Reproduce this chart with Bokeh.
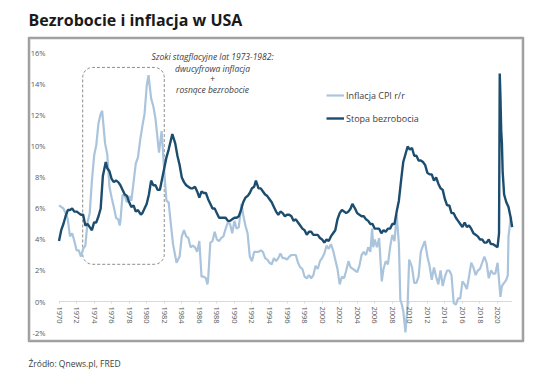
import math
import numpy as np
from bokeh.plotting import figure
from bokeh.models import (FixedTicker, PrintfTickFormatter, Title, Legend, ColumnDataSource)
from bokeh.core.properties import value
from bokeh.embed import file_html
from bokeh.resources import INLINE

# ---------------- data ----------------
unemp_t = [1970.0, 1970.25, 1970.5, 1970.75, 1971.0, 1971.25, 1971.5, 1971.75,
           1972.0, 1972.25, 1972.5, 1972.75, 1973.0, 1973.25, 1973.5, 1973.75,
           1974.0, 1974.25, 1974.5, 1974.75, 1975.0, 1975.33, 1975.5, 1975.75,
           1976.0, 1976.25, 1976.5, 1976.75, 1977.0, 1977.25, 1977.5, 1977.75,
           1978.0, 1978.25, 1978.5, 1978.75, 1979.0, 1979.33, 1979.5, 1979.75,
           1980.0, 1980.25, 1980.5, 1980.75, 1981.0, 1981.25, 1981.5, 1981.75,
           1982.0, 1982.25, 1982.5, 1982.75, 1982.92, 1983.25, 1983.5, 1983.75,
           1984.0, 1984.25, 1984.5, 1984.75, 1985.0, 1985.25, 1985.5, 1985.75,
           1986.0, 1986.25, 1986.5, 1986.75, 1987.0, 1987.25, 1987.5, 1987.75,
           1988.0, 1988.25, 1988.5, 1988.75, 1989.0, 1989.25, 1989.5, 1989.75,
           1990.0, 1990.25, 1990.5, 1990.75, 1991.0, 1991.25, 1991.5, 1991.75,
           1992.0, 1992.25, 1992.45, 1992.75, 1993.0, 1993.25, 1993.5, 1993.75,
           1994.0, 1994.25, 1994.5, 1994.75, 1995.0, 1995.25, 1995.5, 1995.75,
           1996.0, 1996.25, 1996.5, 1996.75, 1997.0, 1997.25, 1997.5, 1997.75,
           1998.0, 1998.25, 1998.5, 1998.75, 1999.0, 1999.25, 1999.5, 1999.75,
           2000.0, 2000.25, 2000.5, 2000.75, 2001.0, 2001.25, 2001.5, 2001.75,
           2002.0, 2002.25, 2002.5, 2002.75, 2003.0, 2003.25, 2003.45, 2003.75,
           2004.0, 2004.25, 2004.5, 2004.75, 2005.0, 2005.25, 2005.5, 2005.75,
           2006.0, 2006.25, 2006.5, 2006.75, 2007.0, 2007.25, 2007.5, 2007.75,
           2008.0, 2008.25, 2008.5, 2008.75, 2009.0, 2009.25, 2009.5, 2009.75,
           2010.0, 2010.25, 2010.5, 2010.75, 2011.0, 2011.25, 2011.5, 2011.75,
           2012.0, 2012.25, 2012.5, 2012.75, 2013.0, 2013.25, 2013.5, 2013.75,
           2014.0, 2014.25, 2014.5, 2014.75, 2015.0, 2015.25, 2015.5, 2015.75,
           2016.0, 2016.25, 2016.5, 2016.75, 2017.0, 2017.25, 2017.5, 2017.75,
           2018.0, 2018.25, 2018.5, 2018.75, 2019.0, 2019.25, 2019.5, 2019.75,
           2020.0, 2020.17, 2020.25, 2020.33, 2020.42, 2020.5, 2020.58, 2020.75,
           2021.0, 2021.25, 2021.5, 2021.67]
unemp_v = [3.9, 4.6, 5.0, 5.5, 5.9, 5.9, 6.0, 5.8,
           5.8, 5.7, 5.6, 5.6, 4.9, 5.0, 4.8, 4.6,
           5.1, 5.1, 5.5, 6.0, 8.1, 9.0, 8.6, 8.4,
           7.9, 7.7, 7.8, 7.7, 7.5, 7.2, 6.9, 6.8,
           6.4, 6.1, 6.2, 5.8, 5.9, 5.6, 5.7, 6.0,
           6.3, 6.9, 7.8, 7.5, 7.5, 7.2, 7.2, 7.9,
           8.6, 9.3, 9.8, 10.4, 10.8, 10.2, 9.4, 8.8,
           8.0, 7.7, 7.5, 7.4, 7.3, 7.3, 7.4, 7.1,
           6.7, 7.1, 7.0, 7.0, 6.6, 6.3, 6.0, 6.0,
           5.7, 5.4, 5.4, 5.4, 5.4, 5.2, 5.2, 5.3,
           5.4, 5.4, 5.5, 5.9, 6.4, 6.7, 6.8, 7.0,
           7.3, 7.4, 7.8, 7.3, 7.3, 7.1, 6.9, 6.8,
           6.6, 6.4, 6.1, 5.8, 5.6, 5.8, 5.7, 5.5,
           5.6, 5.6, 5.5, 5.2, 5.3, 5.1, 4.9, 4.7,
           4.6, 4.3, 4.5, 4.5, 4.3, 4.3, 4.3, 4.1,
           4.0, 3.8, 4.0, 3.9, 4.2, 4.4, 4.6, 5.3,
           5.7, 5.9, 5.8, 5.7, 5.8, 6.0, 6.3, 6.0,
           5.7, 5.6, 5.5, 5.5, 5.3, 5.2, 5.0, 5.0,
           4.7, 4.7, 4.7, 4.4, 4.6, 4.5, 4.7, 4.7,
           5.0, 5.0, 5.8, 6.5, 7.8, 9.0, 9.5, 10.0,
           9.8, 9.9, 9.4, 9.4, 9.1, 9.1, 9.0, 8.8,
           8.3, 8.2, 8.2, 7.8, 8.0, 7.6, 7.3, 7.2,
           6.6, 6.2, 6.2, 5.7, 5.7, 5.4, 5.2, 5.0,
           4.8, 5.1, 4.8, 4.9, 4.7, 4.4, 4.3, 4.2,
           4.0, 4.0, 3.8, 3.8, 4.0, 3.7, 3.7, 3.6,
           3.5, 4.4, 14.7, 13.2, 11.0, 10.2, 8.4, 6.9,
           6.4, 6.1, 5.4, 4.8]

cpi_t = [1970.0, 1970.25, 1970.5, 1970.75, 1971.0, 1971.25, 1971.5, 1971.75,
         1972.0, 1972.25, 1972.5, 1972.75, 1973.0, 1973.25, 1973.5, 1973.75,
         1974.0, 1974.25, 1974.5, 1974.75, 1974.92, 1975.0, 1975.25, 1975.5, 1975.75,
         1976.0, 1976.25, 1976.5, 1976.75, 1976.92, 1977.0, 1977.25, 1977.5, 1977.75,
         1978.0, 1978.25, 1978.5, 1978.75, 1979.0, 1979.25, 1979.5, 1979.75,
         1980.0, 1980.2, 1980.5, 1980.75, 1981.0, 1981.4, 1981.7, 1982.0,
         1982.25, 1982.5, 1982.75, 1983.0, 1983.4, 1983.75, 1984.0, 1984.25,
         1984.5, 1984.75, 1985.0, 1985.25, 1985.5, 1985.75, 1986.0, 1986.25,
         1986.5, 1986.75, 1986.92, 1987.0, 1987.25, 1987.5, 1987.75, 1988.0,
         1988.25, 1988.5, 1988.75, 1989.0, 1989.25, 1989.5, 1989.75, 1990.0,
         1990.25, 1990.5, 1990.8, 1991.0, 1991.25, 1991.5, 1991.75, 1992.0,
         1992.25, 1992.5, 1992.75, 1993.0, 1993.25, 1993.5, 1993.75, 1994.0,
         1994.25, 1994.5, 1994.75, 1995.0, 1995.25, 1995.5, 1995.75, 1996.0,
         1996.25, 1996.5, 1996.75, 1997.0, 1997.25, 1997.5, 1997.75, 1998.0,
         1998.25, 1998.5, 1998.75, 1999.0, 1999.25, 1999.5, 1999.75, 2000.0,
         2000.25, 2000.5, 2000.75, 2001.0, 2001.25, 2001.5, 2001.75, 2002.0,
         2002.25, 2002.5, 2002.75, 2003.0, 2003.25, 2003.5, 2003.75, 2004.0,
         2004.25, 2004.5, 2004.75, 2005.0, 2005.25, 2005.5, 2005.7, 2005.83,
         2006.0, 2006.25, 2006.5, 2006.8, 2007.0, 2007.25, 2007.5, 2007.75,
         2008.0, 2008.25, 2008.5, 2008.75, 2008.92, 2009.0, 2009.25, 2009.5,
         2009.75, 2009.92, 2010.0, 2010.25, 2010.5, 2010.75, 2011.0, 2011.25,
         2011.5, 2011.7, 2011.83, 2012.0, 2012.25, 2012.5, 2012.75, 2013.0,
         2013.25, 2013.5, 2013.75, 2014.0, 2014.25, 2014.5, 2014.75, 2015.0,
         2015.25, 2015.5, 2015.75, 2016.0, 2016.25, 2016.5, 2016.75, 2017.0,
         2017.25, 2017.5, 2017.75, 2018.0, 2018.25, 2018.5, 2018.75, 2019.0,
         2019.25, 2019.5, 2019.75, 2020.0, 2020.33, 2020.5, 2020.75, 2021.0,
         2021.17, 2021.25, 2021.42, 2021.5, 2021.67]
cpi_v = [6.2, 6.1, 6.0, 5.7, 5.3, 4.2, 4.4, 3.9,
         3.3, 3.3, 2.9, 3.4, 3.6, 5.1, 5.7, 7.8,
         9.4, 10.1, 11.5, 12.1, 12.3, 11.8, 10.2, 9.5, 7.4,
         6.7, 6.1, 5.4, 5.3, 4.9, 5.2, 6.9, 6.8, 6.4,
         6.8, 6.5, 7.7, 8.9, 9.3, 10.4, 11.3, 12.1,
         13.9, 14.6, 13.1, 12.6, 11.8, 9.6, 11.0, 8.4,
         6.5, 6.4, 5.0, 3.7, 2.5, 2.9, 4.2, 4.6,
         4.2, 4.1, 3.5, 3.6, 3.5, 3.2, 3.9, 1.6,
         1.6, 1.5, 1.1, 1.4, 3.8, 3.9, 4.5, 4.0,
         3.9, 4.1, 4.2, 4.7, 5.1, 5.0, 4.4, 5.2,
         4.7, 4.8, 6.3, 5.6, 4.9, 4.4, 2.9, 2.6,
         3.2, 3.2, 3.2, 3.3, 3.2, 2.8, 2.7, 2.5,
         2.4, 2.8, 2.6, 2.8, 3.1, 2.8, 2.8, 2.7,
         2.9, 3.0, 3.0, 3.0, 2.5, 2.2, 2.1, 1.6,
         1.5, 1.7, 1.5, 1.7, 2.3, 2.1, 2.6, 2.8,
         3.1, 3.6, 3.4, 3.7, 3.3, 2.7, 2.1, 1.1,
         1.6, 1.5, 2.0, 2.6, 2.2, 2.1, 2.0, 1.9,
         2.3, 3.0, 3.2, 3.0, 3.5, 3.2, 4.7, 3.5,
         4.0, 3.5, 4.1, 1.3, 2.1, 2.6, 2.4, 3.5,
         4.3, 3.9, 5.6, 3.7, 0.1, 0.0, -0.6, -2.0,
         -0.2, 2.7, 2.6, 2.2, 1.2, 1.2, 1.6, 3.2,
         3.6, 3.9, 3.5, 2.9, 2.3, 1.4, 2.2, 1.6,
         1.1, 2.0, 1.0, 1.6, 2.0, 2.0, 1.7, -0.1,
         -0.2, 0.2, 0.2, 1.3, 1.1, 0.8, 1.6, 2.5,
         2.2, 1.7, 2.0, 2.1, 2.5, 2.9, 2.5, 1.5,
         2.0, 1.8, 1.8, 2.5, 0.3, 1.0, 1.2, 1.4,
         1.7, 4.2, 5.0, 5.4, 5.4]

y_ticks = [-2, 0, 2, 4, 6, 8, 10, 12, 14, 16]
x_ticks = list(range(1970, 2021, 2))

title_text = "Bezrobocie i inflacja w USA"
source_text = "Źródło: Qnews.pl, FRED"
cpi_label = "Inflacja CPI r/r"
unemp_label = "Stopa bezrobocia"
note_lines = ["Szoki stagflacyjne lat 1973-1982:", "dwucyfrowa inflacja", "+", "rosnące bezrobocie"]

# highlighted period box (years / %)
box_x0, box_x1, box_y0, box_y1 = 1972.7, 1982.0, 2.4, 15.1

# ---------------- figure ----------------
X0, X1 = 1966.52, 2022.96
Y0, Y1 = -2.58, 17.03
W, H = 536, 385
ML, MR, MT, MB = 28, 13, 37, 44

p = figure(width=W, height=H, output_backend="svg", toolbar_location=None,
           x_range=(X0, X1), y_range=(Y0, Y1),
           min_border_left=ML, min_border_right=MR, min_border_top=MT, min_border_bottom=MB)
p.grid.visible = False
p.outline_line_color = "#9e9e9e"
p.outline_line_width = 1.5
p.background_fill_color = "white"
p.border_fill_color = "white"

sx = (W - ML - MR) / (X1 - X0)
sy = (H - MT - MB) / (Y1 - Y0)

# chart box border drawn just inside the frame edges
dx, dy = 1.0 / sx, 1.0 / sy
p.line([X0 + dx, X1 - dx, X1 - dx, X0 + dx, X0 + dx],
       [Y0 + dy, Y0 + dy, Y1 - dy, Y1 - dy, Y0 + dy],
       line_color="#a3a3a3", line_width=1.6)

p.title.text = title_text
p.title.text_font = "Open Sans"
p.title.text_font_style = "bold"
p.title.text_font_size = "16px"
p.title.text_color = "#1a1a1a"
p.title.align = "left"
p.title.offset = 0
p.title.standoff = 13

src = Title(text=source_text, align="left", vertical_align="bottom", text_font="Open Sans",
            text_font_style="normal", text_font_size="8.5px", text_color="#404040",
            standoff=29, offset=0)
p.add_layout(src, "below")

# axes
xa = p.xaxis[0]
xa.fixed_location = 0
xa.ticker = FixedTicker(ticks=x_ticks)
xa.major_label_orientation = -math.pi / 2
xa.axis_line_color = None
xa.major_tick_line_color = "#d9d9d9"
xa.major_tick_out = 2
xa.major_tick_in = 0
xa.minor_tick_line_color = None
xa.major_label_text_font = "Open Sans"
xa.major_label_text_font_size = "7.5px"
xa.major_label_text_color = "#595959"
xa.major_label_standoff = 3

ya = p.yaxis[0]
ya.fixed_location = 1969.6
ya.ticker = FixedTicker(ticks=y_ticks)
ya.formatter = PrintfTickFormatter(format="%d%%")
ya.axis_line_color = None
ya.major_tick_line_color = None
ya.minor_tick_line_color = None
ya.major_label_text_font = "Open Sans"
ya.major_label_text_font_size = "7.5px"
ya.major_label_text_color = "#595959"
ya.major_label_standoff = 4

# zero line across data extent
p.line([unemp_t[0], unemp_t[-1]], [0, 0], line_color="#d9d9d9", line_width=1)

# rounded dashed box
r = 10.0
rx, ry = r / sx, r / sy
pts_x, pts_y = [], []
corners = [(box_x1 - rx, box_y1 - ry, 0, 90), (box_x0 + rx, box_y1 - ry, 90, 180),
           (box_x0 + rx, box_y0 + ry, 180, 270), (box_x1 - rx, box_y0 + ry, 270, 360)]
for cx, cy, a0, a1 in corners:
    a = np.radians(np.linspace(a0, a1, 10))
    pts_x.extend(cx + rx * np.cos(a))
    pts_y.extend(cy + ry * np.sin(a))
pts_x.append(pts_x[0])
pts_y.append(pts_y[0])
p.line(pts_x, pts_y, line_color="#8c8c8c", line_width=1, line_dash="3 2")

# series
r_cpi = p.line(cpi_t, cpi_v, line_color="#aac4dc", line_width=2.2)
r_un = p.line(unemp_t, unemp_v, line_color="#1c4d6e", line_width=2.4)

legend = Legend(items=[(cpi_label, [r_cpi]), (unemp_label, [r_un])],
                location=(298, 215), orientation="vertical",
                glyph_width=18, glyph_height=16, label_height=16, spacing=7,
                label_standoff=2, padding=0, margin=0,
                border_line_color=None, background_fill_alpha=0,
                label_text_font="Open Sans", label_text_font_size="9px",
                label_text_color="#404040")
p.add_layout(legend, "center")

# annotation text
note_src = ColumnDataSource(dict(x=[1987.5] * 4, y=[15.8, 15.05, 14.4, 13.65], t=note_lines))
p.text(x="x", y="y", text="t", source=note_src, text_align="center", text_baseline="middle",
       text_font=value("Open Sans"), text_font_style="italic", text_font_size="8.5px",
       text_color="#404040")

open("out.html", "w").write(file_html(p, INLINE))
